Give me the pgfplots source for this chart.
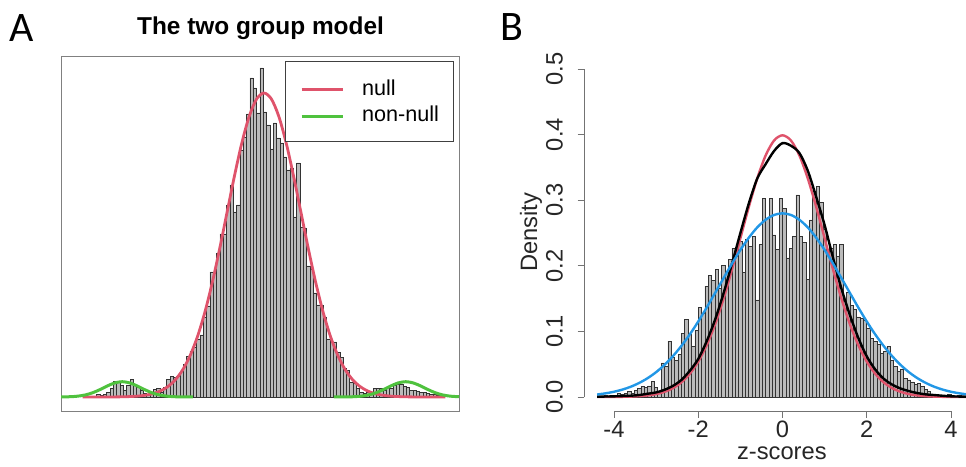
\documentclass[border=0pt]{standalone}
\usepackage{fontspec}
\setmainfont{Liberation Sans}
\newfontfamily\labelfont{Carlito}
\usepackage{pgfplots}
\pgfplotsset{compat=1.18}
\definecolor{rnull}{HTML}{DF536B}
\definecolor{rgreen}{HTML}{4FC23E}
\definecolor{rblue}{HTML}{2297E6}
\definecolor{barfill}{HTML}{BBBBBB}
\begin{document}
\begin{tikzpicture}[x=1pt,y=1pt]
\useasboundingbox (0,0) rectangle (966,466);
\node[anchor=base, inner sep=0pt, font=\labelfont\fontsize{42}{42}\selectfont] at (21.5,424) {A};
\node[anchor=base, inner sep=0pt, font=\labelfont\fontsize{42}{42}\selectfont] at (511.7,425) {B};
\node[anchor=base, inner sep=0pt, font=\bfseries\fontsize{24.4}{28}\selectfont] at (260.5,431) {The two group model};

% ---------------- Panel A ----------------
\begin{axis}[
  at={(61pt,55pt)}, anchor=south west, scale only axis,
  width=398pt, height=355pt,
  xmin=-5.486, xmax=5.270, ymin=-14, ymax=341,
  xtick=\empty, ytick=\empty,
  axis line style={draw=black!50, line width=0.9pt},
  legend style={at={(0.98744,0.98592)}, anchor=north east, draw=black!75, line width=0.8pt, fill=white,
    font=\fontsize{21.6}{24}\selectfont, inner xsep=14.6pt, inner ysep=18.3pt, row sep=9.3pt,
    nodes={inner sep=0pt, text depth=0pt}, cells={anchor=base west}},
  legend image code/.code={\draw[#1, line width=3pt] (0pt,5.6pt) -- (41pt,5.6pt); \path (59pt,0pt);},
]
\addplot[ybar, bar width=0.09, bar shift=0pt, fill=barfill, draw=black!80, line width=0.7pt, forget plot]
 table[row sep=\\] {
x y \\
-4.475 3 \\ -4.385 2 \\ -4.295 3 \\ -4.205 5 \\ -4.115 9 \\ -4.025 16 \\ -3.935 16 \\ -3.845 12 \\
-3.755 7 \\ -3.665 12 \\ -3.575 18 \\ -3.485 12 \\ -3.395 10 \\ -3.305 7 \\ -3.215 4 \\ -3.125 3 \\
-3.035 4 \\ -2.945 8 \\ -2.855 9 \\ -2.765 5 \\ -2.675 10 \\ -2.585 18 \\ -2.495 21 \\ -2.405 20 \\
-2.315 21 \\ -2.225 26 \\ -2.135 33 \\ -2.045 41 \\ -1.955 46 \\ -1.865 50 \\ -1.775 58 \\
-1.685 62 \\ -1.595 80 \\ -1.505 91 \\ -1.415 125 \\ -1.325 124 \\ -1.235 144 \\ -1.145 163 \\
-1.055 163 \\ -0.965 192 \\ -0.875 212 \\ -0.785 185 \\ -0.695 192 \\ -0.605 247 \\ -0.515 260 \\
-0.425 283 \\ -0.335 319 \\ -0.245 309 \\ -0.155 284 \\ -0.065 329 \\ 0.025 285 \\ 0.115 272 \\
0.205 248 \\ 0.295 274 \\ 0.385 259 \\ 0.475 254 \\ 0.565 240 \\ 0.655 227 \\ 0.745 229 \\
0.835 180 \\ 0.925 234 \\ 1.015 170 \\ 1.105 169 \\ 1.195 131 \\ 1.285 128 \\ 1.375 104 \\
1.465 92 \\ 1.555 92 \\ 1.645 80 \\ 1.735 58 \\ 1.825 55 \\ 1.915 55 \\ 2.005 45 \\ 2.095 40 \\
2.185 29 \\ 2.275 27 \\ 2.365 15 \\ 2.455 14 \\ 2.545 9 \\ 2.635 5 \\ 2.725 4 \\ 2.815 5 \\
2.905 3 \\ 2.995 9 \\ 3.085 9 \\ 3.175 9 \\ 3.265 7 \\ 3.355 10 \\ 3.445 9 \\ 3.535 12 \\
3.625 13 \\ 3.715 13 \\ 3.805 11 \\ 3.895 10 \\ 3.985 7 \\ 4.075 7 \\ 4.165 6 \\ 4.255 5 \\
4.345 5 \\ 4.435 4 \\ 4.525 3 \\ 4.615 3 \\ 4.705 2 \\
};
\addplot[rnull, line width=2.8pt, smooth] table[row sep=\\] {
x y \\
-4.9 0 \\ -4.6 0.01 \\ -4.4 0.02 \\ -4.2 0.05 \\ -4.0 0.10 \\ -3.8 0.22 \\ -3.6 0.47 \\ -3.4 0.94 \\
-3.2 1.81 \\ -3.0 3.38 \\ -2.8 6.03 \\ -2.6 10.35 \\ -2.4 17.06 \\ -2.2 27.03 \\ -2.0 41.14 \\
-1.8 60.16 \\ -1.6 84.52 \\ -1.4 114.09 \\ -1.2 147.97 \\ -1.0 184.38 \\ -0.8 220.74 \\ -0.6 253.91 \\
-0.4 280.62 \\ -0.2 297.97 \\ 0 304 \\ 0.2 297.97 \\ 0.4 280.62 \\ 0.6 253.91 \\ 0.8 220.74 \\
1.0 184.38 \\ 1.2 147.97 \\ 1.4 114.09 \\ 1.6 84.52 \\ 1.8 60.16 \\ 2.0 41.14 \\ 2.2 27.03 \\
2.4 17.06 \\ 2.6 10.35 \\ 2.8 6.03 \\ 3.0 3.38 \\ 3.2 1.81 \\ 3.4 0.94 \\ 3.6 0.47 \\ 3.8 0.22 \\
4.0 0.10 \\ 4.2 0.05 \\ 4.4 0.02 \\ 4.6 0.01 \\ 4.9 0 \\
};
\addlegendentry{null}
\addplot[rgreen, line width=3pt, smooth] table[row sep=\\] {
x y \\
-5.49 0.06 \\ -5.23 0.30 \\ -5.03 0.86 \\ -4.83 2.07 \\ -4.63 4.25 \\ -4.43 7.45 \\ -4.23 11.11 \\
-4.03 14.12 \\ -3.83 15.3 \\ -3.63 14.12 \\ -3.43 11.11 \\ -3.23 7.45 \\ -3.03 4.25 \\ -2.83 2.07 \\
-2.63 0.86 \\ -2.43 0.30 \\ -2.23 0.09 \\ -1.92 0.01 \\
};
\addlegendentry{non-null}
\addplot[rgreen, line width=3pt, smooth, forget plot] table[row sep=\\] {
x y \\
1.89 0.01 \\ 2.23 0.09 \\ 2.43 0.30 \\ 2.63 0.86 \\ 2.83 2.07 \\ 3.03 4.25 \\ 3.23 7.45 \\
3.43 11.11 \\ 3.63 14.12 \\ 3.83 15.3 \\ 4.03 14.12 \\ 4.23 11.11 \\ 4.43 7.45 \\ 4.63 4.25 \\
4.83 2.07 \\ 5.03 0.86 \\ 5.27 0.25 \\
};
\end{axis}

% ---------------- Panel B ----------------
\begin{axis}[
  at={(584pt,55pt)}, anchor=south west, scale only axis,
  width=382pt, height=342pt,
  xmin=-4.712, xmax=4.356, ymin=-0.02134, ymax=0.5,
  axis x line*=bottom, axis y line*=left,
  axis line style={-, draw=black!55, line width=0.9pt},
  x axis line style={shorten <=30pt, shorten >=15pt},
  y axis line style={shorten <=14pt},
  xtick={-4,-2,0,2,4}, xticklabels={-4,-2,0,2,4},
  ytick={0,0.1,0.2,0.3,0.4,0.5}, yticklabels={0.0,0.1,0.2,0.3,0.4,0.5},
  tick align=outside, major tick length=6.5pt,
  tick style={draw=black!55, line width=0.9pt},
  ticklabel style={font=\fontsize{23.7}{28}\selectfont, text=black!85},
  xticklabel style={inner sep=0pt, anchor=north},
  xticklabel shift=3pt,
  yticklabel style={rotate=90, anchor=base, inner sep=0pt},
  yticklabel shift=15pt,
  xlabel={z-scores}, ylabel={Density},
  every axis x label/.style={at={(axis description cs:0.518,-0.143)}, anchor=base, font=\fontsize{23.7}{28}\selectfont, text=black!85},
  every axis y label/.style={at={(axis description cs:-0.123,0.522)}, rotate=90, anchor=base, font=\fontsize{23.7}{28}\selectfont, text=black!85},
]
\addplot[ybar, bar width=0.08, bar shift=0pt, fill=barfill, draw=black!80, line width=0.7pt]
 table[row sep=\\] {
x y \\
-4.36 0 \\ -4.28 0 \\ -4.20 0.002 \\ -4.12 0 \\ -4.04 0.003 \\ -3.96 0.003 \\ -3.88 0.005 \\
-3.80 0.004 \\ -3.72 0.006 \\ -3.64 0.009 \\ -3.56 0.006 \\ -3.48 0.010 \\ -3.40 0.013 \\
-3.32 0.016 \\ -3.24 0.015 \\ -3.16 0.017 \\ -3.08 0.024 \\ -3.00 0.015 \\ -2.92 0.008 \\
-2.84 0.052 \\ -2.76 0.047 \\ -2.68 0.085 \\ -2.60 0.060 \\ -2.52 0.056 \\ -2.44 0.065 \\
-2.36 0.097 \\ -2.28 0.118 \\ -2.20 0.095 \\ -2.12 0.077 \\ -2.04 0.102 \\ -1.96 0.136 \\
-1.88 0.128 \\ -1.80 0.169 \\ -1.72 0.185 \\ -1.64 0.178 \\ -1.56 0.194 \\ -1.48 0.165 \\
-1.40 0.200 \\ -1.32 0.190 \\ -1.24 0.210 \\ -1.16 0.227 \\ -1.08 0.215 \\ -1.00 0.237 \\
-0.92 0.190 \\ -0.84 0.240 \\ -0.76 0.230 \\ -0.68 0.245 \\ -0.60 0.148 \\ -0.52 0.232 \\
-0.44 0.303 \\ -0.36 0.273 \\ -0.28 0.303 \\ -0.20 0.247 \\ -0.12 0.225 \\ -0.04 0.303 \\
0.04 0.288 \\ 0.12 0.212 \\ 0.20 0.227 \\ 0.28 0.245 \\ 0.36 0.308 \\ 0.44 0.245 \\
0.52 0.235 \\ 0.60 0.179 \\ 0.68 0.270 \\ 0.76 0.313 \\ 0.84 0.321 \\ 0.92 0.296 \\
1.00 0.255 \\ 1.08 0.220 \\ 1.16 0.227 \\ 1.24 0.232 \\ 1.32 0.214 \\ 1.40 0.232 \\
1.48 0.146 \\ 1.56 0.159 \\ 1.64 0.140 \\ 1.72 0.133 \\ 1.80 0.122 \\ 1.88 0.120 \\
1.96 0.117 \\ 2.04 0.105 \\ 2.12 0.089 \\ 2.20 0.085 \\ 2.28 0.080 \\ 2.36 0.067 \\
2.44 0.070 \\ 2.52 0.077 \\ 2.60 0.056 \\ 2.68 0.046 \\ 2.76 0.039 \\ 2.84 0.042 \\
2.92 0.028 \\ 3.00 0.026 \\ 3.08 0.023 \\ 3.16 0.019 \\ 3.24 0.021 \\ 3.32 0.016 \\
3.40 0.011 \\ 3.48 0.008 \\ 3.56 0.004 \\ 3.64 0.003 \\ 3.72 0 \\ 3.80 0.002 \\ 3.88 0 \\
3.96 0.004 \\ 4.04 0.003 \\ 4.12 0 \\ 4.20 0.002 \\ 4.28 0 \\ 4.36 0 \\
};
\addplot[rnull, line width=2.4pt, smooth] table[row sep=\\] {
x y \\
-4.4 0.00002 \\ -4.2 0.00006 \\ -4.0 0.00013 \\ -3.8 0.00029 \\ -3.6 0.00061 \\ -3.4 0.00123 \\
-3.2 0.00238 \\ -3.0 0.00443 \\ -2.8 0.00792 \\ -2.6 0.01358 \\ -2.4 0.02239 \\ -2.2 0.03547 \\
-2.0 0.05399 \\ -1.8 0.07895 \\ -1.6 0.11092 \\ -1.4 0.14973 \\ -1.2 0.19419 \\ -1.0 0.24197 \\
-0.8 0.28969 \\ -0.6 0.33322 \\ -0.4 0.36827 \\ -0.2 0.39104 \\ 0 0.39894 \\ 0.2 0.39104 \\
0.4 0.36827 \\ 0.6 0.33322 \\ 0.8 0.28969 \\ 1.0 0.24197 \\ 1.2 0.19419 \\ 1.4 0.14973 \\
1.6 0.11092 \\ 1.8 0.07895 \\ 2.0 0.05399 \\ 2.2 0.03547 \\ 2.4 0.02239 \\ 2.6 0.01358 \\
2.8 0.00792 \\ 3.0 0.00443 \\ 3.2 0.00238 \\ 3.4 0.00123 \\ 3.6 0.00061 \\ 3.8 0.00029 \\
4.0 0.00013 \\ 4.2 0.00006 \\ 4.4 0.00002 \\
};
\addplot[black, line width=2.4pt, smooth] table[row sep=\\] {
x y \\
-4.4 0.0005 \\ -4.0 0.001 \\ -3.6 0.002 \\ -3.4 0.003 \\ -3.2 0.005 \\ -3.0 0.007 \\ -2.8 0.011 \\
-2.6 0.017 \\ -2.4 0.026 \\ -2.2 0.040 \\ -2.0 0.058 \\ -1.8 0.085 \\ -1.6 0.118 \\ -1.4 0.158 \\
-1.2 0.203 \\ -1.0 0.250 \\ -0.8 0.295 \\ -0.6 0.333 \\ -0.4 0.355 \\ -0.2 0.375 \\ 0 0.387 \\
0.2 0.383 \\ 0.4 0.372 \\ 0.6 0.345 \\ 0.8 0.305 \\ 1.0 0.262 \\ 1.2 0.212 \\ 1.4 0.165 \\
1.6 0.125 \\ 1.8 0.090 \\ 2.0 0.062 \\ 2.2 0.042 \\ 2.4 0.028 \\ 2.6 0.019 \\ 2.8 0.013 \\
3.0 0.009 \\ 3.2 0.006 \\ 3.4 0.004 \\ 3.6 0.003 \\ 4.0 0.001 \\ 4.4 0.0005 \\
};
\addplot[rblue, line width=2.4pt, smooth] table[row sep=\\] {
x y \\
-4.4 0.0038 \\ -4.2 0.0056 \\ -4.0 0.0080 \\ -3.8 0.0113 \\ -3.6 0.0157 \\ -3.4 0.0215 \\
-3.2 0.0288 \\ -3.0 0.0379 \\ -2.8 0.0491 \\ -2.6 0.0624 \\ -2.4 0.0779 \\ -2.2 0.0955 \\
-2.0 0.1151 \\ -1.8 0.1363 \\ -1.6 0.1586 \\ -1.4 0.1811 \\ -1.2 0.2033 \\ -1.0 0.2242 \\
-0.8 0.2428 \\ -0.6 0.2585 \\ -0.4 0.2702 \\ -0.2 0.2775 \\ 0 0.2800 \\ 0.2 0.2775 \\
0.4 0.2702 \\ 0.6 0.2585 \\ 0.8 0.2428 \\ 1.0 0.2242 \\ 1.2 0.2033 \\ 1.4 0.1811 \\
1.6 0.1586 \\ 1.8 0.1363 \\ 2.0 0.1151 \\ 2.2 0.0955 \\ 2.4 0.0779 \\ 2.6 0.0624 \\
2.8 0.0491 \\ 3.0 0.0379 \\ 3.2 0.0288 \\ 3.4 0.0215 \\ 3.6 0.0157 \\ 3.8 0.0113 \\
4.0 0.0080 \\ 4.2 0.0056 \\ 4.4 0.0038 \\
};
\end{axis}
\end{tikzpicture}
\end{document}
